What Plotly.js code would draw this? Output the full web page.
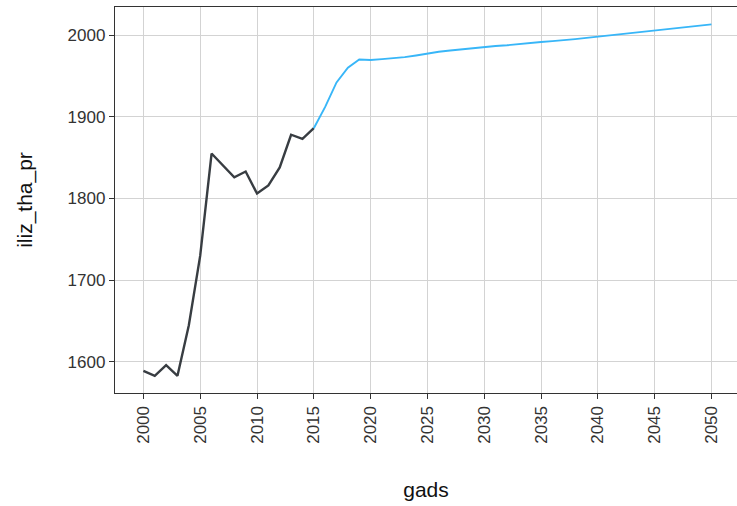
<!DOCTYPE html>
<html>
<head>
<meta charset="utf-8">
<script src="https://cdn.plot.ly/plotly-3.0.1.min.js"></script>
<style>html,body{margin:0;padding:0;background:#fff;}#chart{width:737px;height:506px;}</style>
</head>
<body>
<div id="chart"></div>
<script>
// Historical series (dark line)
const histYears = [2000,2001,2002,2003,2004,2005,2006,2007,2008,2009,2010,2011,2012,2013,2014,2015];
const histValues = [1589,1583,1596,1583,1645,1730,1855,1841,1826,1833,1806,1816,1838,1878,1873,1886];

// Projection series (blue line)
const projYears = [2015,2016,2017,2018,2019,2020,2021,2022,2023,2024,2025,2026,2027,2028,2029,2030,2031,2032,2033,2034,2035,2036,2037,2038,2039,2040,2041,2042,2043,2044,2045,2046,2047,2048,2049,2050];
const projValues = [1886,1912,1942,1960,1970,1969.5,1970.5,1971.5,1973,1975,1977.5,1979.5,1981,1982.5,1984,1985.5,1986.5,1987.5,1989,1990,1991.5,1992.5,1993.5,1995,1996.5,1998,1999.5,2001,2002,2003.5,2005,2006.5,2008,2009.5,2011,2013];

const xTicks = [2000,2005,2010,2015,2020,2025,2030,2035,2040,2045,2050];
const yTicks = [1600,1700,1800,1900,2000];

const font = "Liberation Sans, Arial, Helvetica, sans-serif";

const traces = [
  {x: histYears, y: histValues, type: 'scatter', mode: 'lines',
   line: {color: '#383d42', width: 2.4}, hoverinfo: 'skip'},
  {x: projYears, y: projValues, type: 'scatter', mode: 'lines',
   line: {color: '#38b6f8', width: 1.9}, hoverinfo: 'skip'}
];

const layout = {
  width: 737, height: 506,
  margin: {l: 115, r: 0, t: 7, b: 113},
  paper_bgcolor: '#fff', plot_bgcolor: '#fff',
  showlegend: false,
  font: {family: font, color: '#333', size: 17},
  xaxis: {
    range: [1997.5, 2052.25],
    tickmode: 'array', tickvals: xTicks, ticktext: xTicks.map(String),
    tickangle: -90,
    ticks: 'outside', ticklen: 5, tickwidth: 1, tickcolor: '#333',
    showline: true, linecolor: '#333', linewidth: 1.2, mirror: true,
    showgrid: true, gridcolor: '#d3d3d3', gridwidth: 1,
    zeroline: false,
    tickfont: {family: font, size: 17, color: '#333'},
    title: {text: 'gads', font: {family: font, size: 21, color: '#111'}, standoff: 39},
    automargin: false
  },
  yaxis: {
    range: [1562, 2034.3],
    tickmode: 'array', tickvals: yTicks, ticktext: yTicks.map(String),
    ticks: 'outside', ticklen: 5, tickwidth: 1, tickcolor: '#333',
    showline: true, linecolor: '#333', linewidth: 1.2, mirror: false,
    showgrid: true, gridcolor: '#d3d3d3', gridwidth: 1,
    zeroline: false,
    tickfont: {family: font, size: 17, color: '#333'},
    title: {text: 'iliz_tha_pr', font: {family: font, size: 21, color: '#111'}, standoff: 29},
    automargin: false
  }
};

Plotly.newPlot('chart', traces, layout, {staticPlot: true, displayModeBar: false});
</script>
</body>
</html>
